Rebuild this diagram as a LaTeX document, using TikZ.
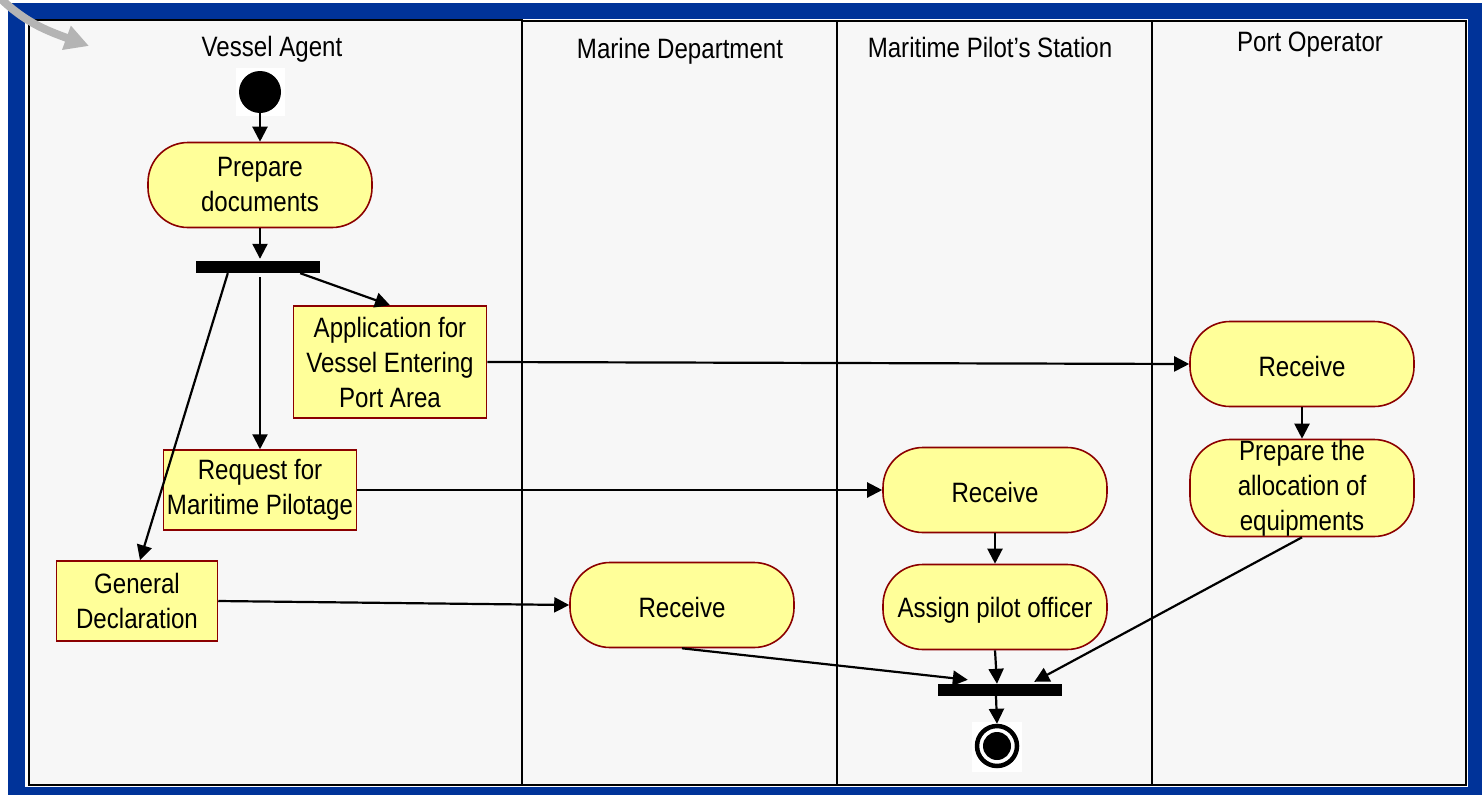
\documentclass[tikz,border=0pt]{standalone}
\usepackage{fontspec}
\setmainfont{Liberation Sans}[FakeStretch=0.86]
\usetikzlibrary{arrows.meta,calc,positioning}
\definecolor{frameblue}{HTML}{003399}
\definecolor{lanebg}{HTML}{F7F7F7}
\definecolor{actfill}{HTML}{FFFF99}
\definecolor{actdraw}{HTML}{8B0000}
\definecolor{hintgray}{HTML}{B4B4B4}
\newcommand\toppad{\rule{0pt}{26pt}}
\tikzset{
  lbl/.style={font=\fontsize{28}{34}\selectfont, align=center, inner sep=0pt},
  lane/.style={draw=black, line width=2pt, fill=lanebg},
  activity/.style={draw=actdraw, line width=1.6pt, fill=actfill, rounded corners=40pt,
    font=\fontsize{28}{35}\selectfont, align=center, inner sep=0pt,
    minimum width=224pt, minimum height=85pt, execute at begin node=\toppad},
  objbox/.style={draw=actdraw, line width=1.5pt, fill=actfill, rectangle,
    font=\fontsize{28}{35}\selectfont, align=center, inner sep=3pt,
    execute at begin node=\toppad},
  bar/.style={fill=black, draw=none, minimum width=124pt, minimum height=12pt, inner sep=0pt},
  flow/.style={draw=black, line width=2.2pt, -{Triangle[length=15pt,width=15pt]}},
}
\begin{document}
\begin{tikzpicture}[x=1pt,y=-1pt]
\useasboundingbox (0,0) rectangle (1482,795);
% outer frame
\fill[frameblue] (8,3) rectangle (1482,795);
\fill[white] (25,19) rectangle (1468,787);
% swimlanes
\draw[lane] (29,20) rectangle (522,785);
\draw[lane] (522,21) rectangle (837,785);
\draw[lane] (837,21) rectangle (1152,785);
\draw[lane] (1152,21) rectangle (1466,785);
\node[lbl] (t1) at (272,49) {Vessel Agent};
\node[lbl] (t2) at (680,51) {Marine Department};
\node[lbl] (t3) at (990,47) {Maritime Pilot’s Station};
\node[lbl] (t4) at (1310,45) {Port Operator};
% corner pointer
\draw[hintgray, line width=8pt, -{Triangle[length=24pt,width=24pt]}] (0,-2) .. controls (25,22) and (45,30) .. (89,46);
% initial node
\fill[white] (236,68) rectangle (285,116);
\node[circle, fill=black, minimum size=42pt, inner sep=0pt] (start) at (260,92) {};
% vessel agent
\node[activity] (prep) at (260,185) {Prepare\\documents};
\node[bar] (fork) at (258,267) {};
\node[objbox, minimum width=193pt, minimum height=112pt] (app) at (390,362) {Application for\\Vessel Entering\\Port Area};
\node[objbox, minimum width=193pt, minimum height=80pt] (req) at (260,490) {Request for\\Maritime Pilotage};
\node[objbox, minimum width=161pt, minimum height=80pt] (gen) at (137,601) {General\\Declaration};
% marine department
\node[activity] (mrec) at (682,605) {Receive};
% pilot station
\node[activity] (prec) at (995,490) {Receive};
\node[activity] (assign) at (995,607) {Assign pilot officer};
\node[bar] (join) at (1000,690) {};
\fill[white] (972,722) rectangle (1022,772);
\node[circle, draw=black, line width=4.5pt, minimum size=40pt, inner sep=0pt] (final) at (997,746) {};
\fill[black] (final.center) circle (14pt);
% port operator
\node[activity] (orec) at (1302,364) {Receive};
\node[activity, minimum height=97pt] (alloc) at (1302,488) {Prepare the\\allocation of\\equipments};
% control flows
\draw[flow] (start.south) -- (prep.north);
\draw[flow] (prep.south) -- ($(fork.north)+(2,-2)$);
\draw[flow] ($(fork.south east)+(-20,0)$) -- (app.north);
\draw[flow] ($(fork.south)+(2,4)$) -- (req.north);
\draw[flow] ($(fork.south west)+(32,0)$) -- ($(gen.north)+(3,0)$);
\draw[flow] (app.east) -- (orec.west);
\draw[flow] (req.east) -- (prec.west);
\draw[flow] (gen.east) -- (mrec.west);
\draw[flow] (orec.south) -- (alloc.north);
\draw[flow] (prec.south) -- (assign.north);
\draw[flow] (mrec.south) -- ($(join.north west)+(30,-4)$);
\draw[flow] (assign.south) -- ($(join.north)+(-3,0)$);
\draw[flow] (alloc.south) -- ($(join.north east)+(-28,-2)$);
\draw[flow] ($(join.south)+(-4,0)$) -- (final.north);
\end{tikzpicture}
\end{document}
